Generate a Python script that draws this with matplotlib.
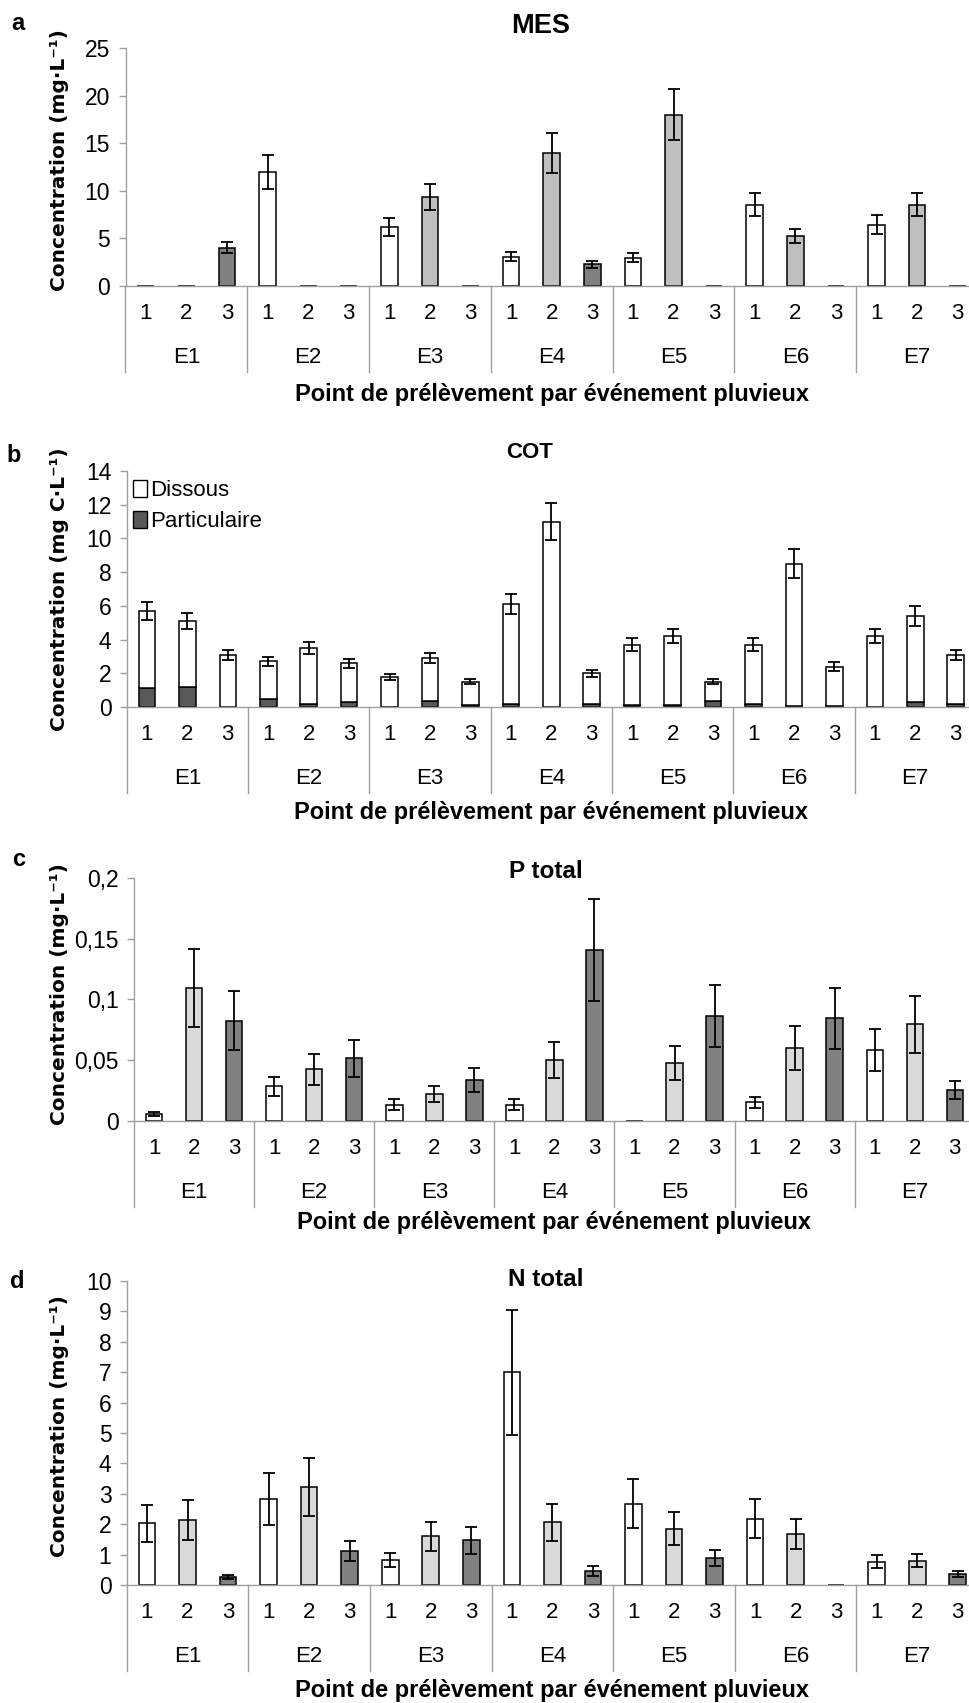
import matplotlib
matplotlib.use("Agg")
import matplotlib.pyplot as plt
import numpy as np
from matplotlib.patches import Patch

plt.rcParams['font.family'] = ['Liberation Sans', 'DejaVu Sans']

events = ["E1", "E2", "E3", "E4", "E5", "E6", "E7"]
points = ["1", "2", "3"]

# a - MES (mg/L), per point, per event
mes_p1 = [0, 12.0, 6.2, 3.05, 2.95, 8.55, 6.4]
mes_p2 = [0, 0, 9.35, 14.0, 18.0, 5.25, 8.55]
mes_p3 = [4.0, 0, 0, 2.25, 0, 0, 0]
mes_e1 = [0, 1.8, 0.95, 0.45, 0.45, 1.25, 1.0]
mes_e2 = [0, 0, 1.4, 2.1, 2.7, 0.75, 1.25]
mes_e3 = [0.6, 0, 0, 0.35, 0, 0, 0]

# b - COT (mg C/L): total and particulate part
cot_tot = [5.7, 5.1, 3.1, 2.7, 3.5, 2.6, 1.8, 2.9, 1.5, 6.1, 11.0, 2.0,
           3.7, 4.2, 1.5, 3.7, 8.5, 2.4, 4.2, 5.4, 3.1]
cot_part = [1.1, 1.2, 0.02, 0.47, 0.18, 0.3, 0.02, 0.38, 0.12, 0.18, 0.02, 0.18,
            0.1, 0.1, 0.38, 0.18, 0.08, 0.08, 0.02, 0.28, 0.18]
cot_err = [0.55, 0.5, 0.3, 0.26, 0.35, 0.27, 0.18, 0.3, 0.15, 0.6, 1.1, 0.2,
           0.37, 0.42, 0.15, 0.37, 0.85, 0.24, 0.42, 0.57, 0.3]

# c - P total (mg/L)
p_p1 = [0.0055, 0.0285, 0.0132, 0.0132, 0, 0.0153, 0.0584]
p_p2 = [0.1095, 0.0425, 0.0225, 0.0504, 0.0474, 0.0603, 0.0795]
p_p3 = [0.0825, 0.0515, 0.0337, 0.1405, 0.0866, 0.0844, 0.0255]
p_e1 = [0.0015, 0.008, 0.0045, 0.0045, 0, 0.0044, 0.0172]
p_e2 = [0.032, 0.0125, 0.0066, 0.0148, 0.014, 0.018, 0.0236]
p_e3 = [0.0245, 0.015, 0.0096, 0.042, 0.0255, 0.025, 0.0077]

# d - N total (mg/L)
n_p1 = [2.03, 2.84, 0.81, 7.0, 2.68, 2.18, 0.77]
n_p2 = [2.14, 3.23, 1.6, 2.06, 1.85, 1.68, 0.8]
n_p3 = [0.27, 1.12, 1.47, 0.46, 0.88, 0, 0.36]
n_e1 = [0.61, 0.85, 0.23, 2.05, 0.8, 0.65, 0.22]
n_e2 = [0.65, 0.96, 0.48, 0.61, 0.54, 0.5, 0.22]
n_e3 = [0.07, 0.34, 0.45, 0.15, 0.26, 0, 0.09]

W, H = 969, 1703
fig = plt.figure(figsize=(W / 100, H / 100), dpi=100)
AX_GRAY = "#A0A0A0"


def make_axes(left, top, right, bottom):
    return fig.add_axes([left / W, 1 - bottom / H, (right - left) / W, (bottom - top) / H])


def style(ax, top, bottom, ymax, yticks, yticklabels, ylabel, yl_y, title, title_x, title_y,
          title_size, letter, letter_xy, xl_off):
    ax.set_xlim(-0.5, 20.5)
    ax.set_ylim(0, ymax)
    for s in ["top", "right"]:
        ax.spines[s].set_visible(False)
    for s in ["left", "bottom"]:
        ax.spines[s].set_color(AX_GRAY)
        ax.spines[s].set_linewidth(1.0)
    ax.spines["bottom"].set_zorder(5)
    ax.set_yticks(yticks)
    ax.set_yticklabels(yticklabels)
    ax.tick_params(axis="y", colors=AX_GRAY, length=5, width=1.0, pad=6,
                   labelcolor="black", labelsize=16.5)
    ax.set_xticks([])
    hpx = bottom - top
    # multi-level category axis
    x = np.arange(21)
    for i in range(21):
        ax.text(x[i], -28 / hpx, points[i % 3], transform=ax.get_xaxis_transform(),
                ha="center", va="center", fontsize=16, clip_on=False)
    for g, ev in enumerate(events):
        ax.text(g * 3 + 1, -72 / hpx, ev, transform=ax.get_xaxis_transform(),
                ha="center", va="center", fontsize=16, clip_on=False)
    for b in np.arange(-0.5, 21, 3):
        ax.plot([b, b], [0, -86 / hpx], transform=ax.get_xaxis_transform(),
                color=AX_GRAY, lw=1.0, clip_on=False)
    ax.text(0.5, -xl_off / hpx, "Point de prélèvement par événement pluvieux",
            transform=ax.transAxes, ha="center", va="center", fontsize=17,
            fontweight="bold", clip_on=False)
    fig.text(60 / W, 1 - yl_y / H, ylabel, rotation=90, ha="center", va="center",
             fontsize=14.5, fontweight="bold", family="DejaVu Sans")
    fig.text(title_x / W, 1 - title_y / H, title, ha="center", va="center",
             fontsize=title_size, fontweight="bold")
    fig.text(letter_xy[0] / W, 1 - letter_xy[1] / H, letter, ha="center", va="center",
             fontsize=17, fontweight="bold")


def grouped(ax, vals, errs, colors):
    for i in range(3):
        xs = np.arange(7) * 3 + i
        v = np.array(vals[i], dtype=float)
        e = np.array(errs[i], dtype=float)
        ax.bar(xs, v, width=0.41, color=colors[i], edgecolor="black", linewidth=1.1, zorder=2)
        m = v > 0
        ax.errorbar(xs[m], v[m], yerr=e[m], fmt="none", ecolor="black", elinewidth=1.3,
                    capsize=4.5, capthick=1.3, zorder=3)


# a - MES
top, bot = 48.3, 285.7
ax = make_axes(125.5, top, 978, bot)
grouped(ax, [mes_p1, mes_p2, mes_p3], [mes_e1, mes_e2, mes_e3], ["white", "#BFBFBF", "#808080"])
style(ax, top, bot, 25, [0, 5, 10, 15, 20, 25], ["0", "5", "10", "15", "20", "25"],
      "Concentration (mg·L⁻¹)", 160, "MES", 541, 26, 19.5, "a", (18, 23), 109)

# b - COT
top, bot = 471, 707
ax = make_axes(126.7, top, 975.9, bot)
xs = np.arange(21)
tot = np.array(cot_tot)
part = np.array(cot_part)
ax.bar(xs, part, width=0.41, color="#595959", edgecolor="black", linewidth=1.1, zorder=2)
ax.bar(xs, tot - part, bottom=part, width=0.41, color="white", edgecolor="black",
       linewidth=1.1, zorder=2)
ax.errorbar(xs, tot, yerr=cot_err, fmt="none", ecolor="black", elinewidth=1.3,
            capsize=4.5, capthick=1.3, zorder=3)
style(ax, top, bot, 14, [0, 2, 4, 6, 8, 10, 12, 14], ["0", "2", "4", "6", "8", "10", "12", "14"],
      "Concentration (mg C·L⁻¹)", 589, "COT", 530, 453, 16, "b", (14, 455), 106)
ax.legend(handles=[Patch(facecolor="white", edgecolor="black", label="Dissous"),
                   Patch(facecolor="#595959", edgecolor="black", label="Particulaire")],
          loc="upper left", bbox_to_anchor=(0.0, 0.99), frameon=False, fontsize=16,
          handlelength=0.6, handleheight=0.8, handletextpad=0.15, labelspacing=0.45,
          borderaxespad=0.1, borderpad=0.2)

# c - P total
top, bot = 877.7, 1121
ax = make_axes(134.1, top, 974.8, bot)
grouped(ax, [p_p1, p_p2, p_p3], [p_e1, p_e2, p_e3], ["white", "#D9D9D9", "#808080"])
style(ax, top, bot, 0.2, [0, 0.05, 0.1, 0.15, 0.2], ["0", "0,05", "0,1", "0,15", "0,2"],
      "Concentration (mg·L⁻¹)", 994, "P total", 546, 872, 17.5, "c", (19, 859), 101)

# d - N total
top, bot = 1281, 1585
ax = make_axes(126.7, top, 978, bot)
grouped(ax, [n_p1, n_p2, n_p3], [n_e1, n_e2, n_e3], ["white", "#D9D9D9", "#808080"])
style(ax, top, bot, 10, list(range(11)), [str(v) for v in range(11)],
      "Concentration (mg·L⁻¹)", 1426, "N total", 546, 1280, 17.5, "d", (17, 1281), 106)

fig.savefig("out.png", dpi=100)
